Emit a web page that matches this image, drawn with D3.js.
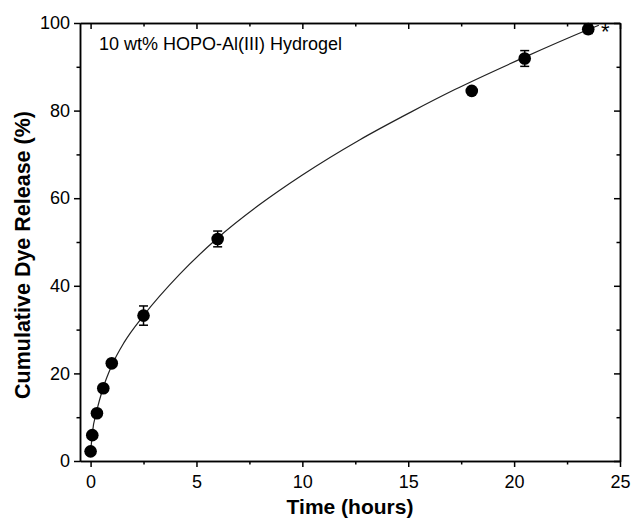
<!DOCTYPE html>
<html>
<head>
<meta charset="utf-8">
<script src="https://cdn.jsdelivr.net/npm/d3@7"></script>
<style>
  body { margin: 0; background: #fff; }
  svg { font-family: Arial, "Liberation Sans", sans-serif; }
</style>
</head>
<body>
<div id="chart"></div>
<script>
// Measured release (hours, %, error)
const times = [0, 0.08, 0.3, 0.6, 1, 2.5, 6, 18, 20.5, 23.5];
const release = [2.2, 5.9, 10.9, 16.6, 22.3, 33.2, 50.7, 84.5, 91.9, 98.6];
const errors = [0, 0, 0, 0, 0, 2.2, 1.8, 0, 1.8, 1.0];

// Fitted curve
const fitTimes = [0.01, 0.08, 0.3, 0.6, 1, 1.6, 2.5, 4.2, 6, 8, 10, 12.7, 15.1, 17.2, 20.5, 23.5, 24];
const fitValues = [2.4, 6.2, 11.6, 16.8, 21.8, 27.2, 33.2, 42.6, 50.9, 58.6, 65.3, 73.3, 79.6, 84.8, 92.2, 98.5, 99.5];

const xTicks = [0, 5, 10, 15, 20, 25];
const xMinor = [2.5, 7.5, 12.5, 17.5, 22.5];
const yTicks = [0, 20, 40, 60, 80, 100];
const yMinor = [10, 30, 50, 70, 90];

const width = 631, height = 523;
const margin = {top: 23, right: 11, bottom: 62, left: 80};

const svg = d3.select('#chart').append('svg')
  .attr('width', width)
  .attr('height', height);

const x = d3.scaleLinear().domain([-0.5, 25]).range([margin.left, width - margin.right]);
const y = d3.scaleLinear().domain([0, 100]).range([height - margin.bottom, margin.top]);

// axes
function styleAxis(g) {
  g.select('.domain').attr('stroke', '#000').attr('stroke-width', 1.5);
  g.selectAll('.tick line').attr('stroke', '#000').attr('stroke-width', 1.5);
  g.selectAll('.tick text').attr('fill', '#000').style('font-size', '18px')
    .style('font-family', 'Arial, "Liberation Sans", sans-serif');
}

svg.append('g')
  .attr('transform', `translate(0,${y(0)})`)
  .call(d3.axisBottom(x).tickValues(xTicks).tickSize(6).tickPadding(8).tickSizeOuter(0))
  .call(styleAxis);
svg.append('g')
  .attr('transform', `translate(0,${y(0)})`)
  .call(d3.axisBottom(x).tickValues(xMinor).tickSize(3.5).tickFormat('').tickSizeOuter(0))
  .call(styleAxis);

svg.append('g')
  .attr('transform', `translate(0,${y(100)})`)
  .call(d3.axisTop(x).tickValues(xTicks).tickSize(-6).tickFormat('').tickSizeOuter(0))
  .call(styleAxis);
svg.append('g')
  .attr('transform', `translate(0,${y(100)})`)
  .call(d3.axisTop(x).tickValues(xMinor).tickSize(-3.5).tickFormat('').tickSizeOuter(0))
  .call(styleAxis);

svg.append('g')
  .attr('transform', `translate(${x(-0.5)},0)`)
  .call(d3.axisLeft(y).tickValues(yTicks).tickSize(6).tickPadding(4).tickSizeOuter(0))
  .call(styleAxis);
svg.append('g')
  .attr('transform', `translate(${x(-0.5)},0)`)
  .call(d3.axisLeft(y).tickValues(yMinor).tickSize(3.5).tickFormat('').tickSizeOuter(0))
  .call(styleAxis);

svg.append('g')
  .attr('transform', `translate(${x(25)},0)`)
  .call(d3.axisRight(y).tickValues(yTicks).tickSize(-6).tickFormat('').tickSizeOuter(0))
  .call(styleAxis);
svg.append('g')
  .attr('transform', `translate(${x(25)},0)`)
  .call(d3.axisRight(y).tickValues(yMinor).tickSize(-3.5).tickFormat('').tickSizeOuter(0))
  .call(styleAxis);

// fit curve
const fit = fitTimes.map((t, i) => ({t: t, v: fitValues[i]}));
const line = d3.line()
  .x(d => x(d.t))
  .y(d => y(d.v))
  .curve(d3.curveMonotoneX);

svg.append('path')
  .datum(fit)
  .attr('d', line)
  .attr('fill', 'none')
  .attr('stroke', '#222')
  .attr('stroke-width', 1.2);

// data points
const pts = times.map((t, i) => ({t: t, v: release[i], e: errors[i]}));

const bars = svg.append('g').selectAll('g')
  .data(pts.filter(d => d.e > 0))
  .enter()
  .append('g')
  .attr('stroke', '#000')
  .attr('stroke-width', 1.5);
bars.append('line')
  .attr('x1', d => x(d.t)).attr('x2', d => x(d.t))
  .attr('y1', d => y(d.v - d.e)).attr('y2', d => y(d.v + d.e));
bars.append('line')
  .attr('x1', d => x(d.t) - 4.5).attr('x2', d => x(d.t) + 4.5)
  .attr('y1', d => y(d.v - d.e)).attr('y2', d => y(d.v - d.e));
bars.append('line')
  .attr('x1', d => x(d.t) - 4.5).attr('x2', d => x(d.t) + 4.5)
  .attr('y1', d => y(d.v + d.e)).attr('y2', d => y(d.v + d.e));

svg.append('g').selectAll('circle')
  .data(pts)
  .enter()
  .append('circle')
  .attr('cx', d => x(d.t))
  .attr('cy', d => y(d.v))
  .attr('r', 6.3)
  .attr('fill', '#000');

// star beside the last point
svg.append('text')
  .attr('x', x(24.1))
  .attr('y', y(98.6) + 10)
  .style('font-size', '22px')
  .text('*');

// label
svg.append('text')
  .attr('x', 99)
  .attr('y', 50)
  .style('font-size', '18px')
  .text('10 wt% HOPO-Al(III) Hydrogel');

// axis titles
svg.append('text')
  .attr('x', (x(-0.5) + x(25)) / 2)
  .attr('y', 514)
  .attr('text-anchor', 'middle')
  .style('font-size', '21px')
  .style('font-weight', 'bold')
  .text('Time (hours)');

svg.append('text')
  .attr('transform', 'translate(30,255) rotate(-90)')
  .attr('text-anchor', 'middle')
  .style('font-size', '21.5px')
  .style('font-weight', 'bold')
  .text('Cumulative Dye Release (%)');
</script>
</body>
</html>
